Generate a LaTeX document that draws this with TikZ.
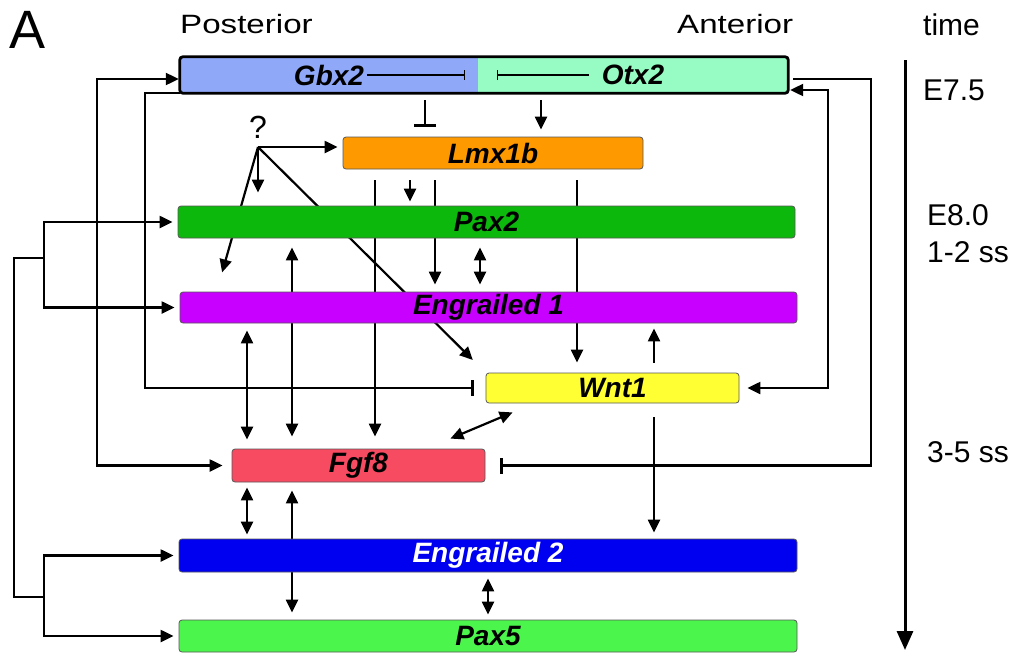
\documentclass[tikz,border=0pt]{standalone}
\usepackage{fontspec}
\setmainfont{Liberation Sans}
\usetikzlibrary{arrows.meta,backgrounds}
\definecolor{cGbx}{RGB}{143,168,248}
\definecolor{cOtx}{RGB}{150,252,196}
\definecolor{cLmx}{RGB}{255,153,0}
\definecolor{cPaxA}{RGB}{12,184,12}
\definecolor{cEnA}{RGB}{200,0,255}
\definecolor{cWnt}{RGB}{255,255,51}
\definecolor{cFgf}{RGB}{247,75,98}
\definecolor{cEnB}{RGB}{0,0,240}
\definecolor{cPaxB}{RGB}{76,245,76}
\newcommand\boxlabfont{\fontsize{28}{30}\selectfont\bfseries\itshape}
\newcommand\sidefont{\fontsize{30}{32}\selectfont}
\newcommand\headfont{\fontsize{26.5}{28}\selectfont}
\begin{document}
\begin{tikzpicture}[x=1pt,y=-1pt,
  box/.style={rectangle, rounded corners=3pt, draw=black!65, line width=0.8pt, inner sep=0pt, font=\boxlabfont},
  halfbox/.style={rectangle, draw=none, inner sep=0pt, font=\boxlabfont, minimum height=36pt},
  conn/.style={line width=2.2pt},
  arr/.style={conn, -{Triangle[length=13pt,width=12pt]}},
  dbl/.style={conn, {Triangle[length=13pt,width=12pt]}-{Triangle[length=13pt,width=12pt]}},
  inh/.style={conn, -{Bar[width=16pt]}},
  thininh/.style={line width=1.1pt, -{Bar[width=10pt]}},
  lbl/.style={inner sep=0pt, anchor=base west}]
\useasboundingbox (0,0) rectangle (1018,657);

% labels
\node[inner sep=0pt, font=\fontsize{54}{56}\selectfont] (A) at (28,30) {A};
\node[lbl] (post) at (180,33) {\scalebox{1.25}[1]{\headfont Posterior}};
\node[lbl] (ant) at (677,33) {\scalebox{1.25}[1]{\headfont Anterior}};
\node[lbl, font=\sidefont] (time) at (923,35) {time};
\node[lbl, font=\sidefont] (e75) at (923,100) {E7.5};
\node[lbl, font=\sidefont] (e80) at (927,225) {E8.0};
\node[lbl, font=\sidefont] (ss12) at (927,262) {1-2 ss};
\node[lbl, font=\sidefont] (ss35) at (927,462) {3-5 ss};

% boxes
\node[halfbox, fill=cGbx, minimum width=298pt] (gbx) at (329,75) {Gbx2};
\node[halfbox, fill=cOtx, minimum width=310pt] (otx) at (633,75) {Otx2};
\draw[line width=2.8pt, rounded corners=3pt] (gbx.south west) rectangle (otx.north east);
\node[box, fill=cLmx, minimum width=300pt, minimum height=32pt] (lmx) at (493,153) {Lmx1b};
\node[box, fill=cPaxA, minimum width=617pt, minimum height=32pt] (pax2) at (486.5,222) {Pax2};
\node[box, fill=cEnA, minimum width=617pt, minimum height=31pt] (eng1) at (488.5,307.5) {Engrailed 1};
\node[box, fill=cWnt, minimum width=253pt, minimum height=30pt] (wnt) at (612.5,388) {Wnt1};
\node[box, fill=cFgf, minimum width=253pt, minimum height=33pt] (fgf) at (358.5,465.5) {Fgf8};
\node[box, fill=cEnB, minimum width=618pt, minimum height=33pt, text=white] (eng2) at (488,555.5) {Engrailed 2};
\node[box, fill=cPaxB, minimum width=618pt, minimum height=32pt] (pax5) at (488,636) {Pax5};
\node[inner sep=0pt, font=\fontsize{32}{34}\selectfont] (q) at (258,127) {?};

% inhibitions inside the top box
\draw[thininh] (gbx.center -| 367,0) -- (gbx.center -| 465,0);
\draw[thininh] (otx.center -| 589,0) -- (otx.center -| 497,0);

% helper coordinates
\coordinate (qj) at (258,147);
\coordinate (b1) at (44,258);
\coordinate (b2) at (44,597);
\coordinate (bl1) at (14,258);
\coordinate (bl2) at (14,597);
\coordinate (c97) at (97,300);
\coordinate (c145) at (145,300);
\coordinate (c871) at (871,300);
\coordinate (c828) at (828,300);
\coordinate (tA) at (905,60);
\coordinate (tB) at (905,650);

\begin{pgfonlayer}{background}
% left brackets
\draw[conn] (b1) -- (bl1) -- (bl2) -- (b2);
\draw[arr, shorten >=5pt] (b1) |- (pax2.west);
\draw[arr, shorten >=5pt] (b1) |- (eng1.west);
\draw[arr, shorten >=5pt] (b2) |- (eng2.west);
\draw[arr, shorten >=5pt] (b2) |- (pax5.west);
% outer loops
\draw[dbl, shorten <=1pt, shorten >=9pt] ([yshift=-4pt]gbx.west) -| (c97) |- (fgf.west);
\draw[inh, shorten >=12pt] (gbx.south west) -| (c145) |- (wnt.west);
\draw[inh, shorten >=15pt] ([xshift=5pt,yshift=-4pt]otx.east) -| (c871) |- (fgf.east);
\draw[dbl, shorten <=2pt, shorten >=8pt] ([yshift=-15pt]otx.east) -| (c828) |- (wnt.east);
% time arrow
\draw[line width=3pt, -{Triangle[length=19pt,width=16pt]}] (tA) -- (tB);
% from top box
\draw[conn, -{Bar[width=22pt]}, shorten <=7pt, shorten >=10pt] (gbx.south -| 425,0) -- (lmx.north -| 425,0);
\draw[arr, shorten <=7pt, shorten >=7pt] (otx.south -| 541,0) -- (lmx.north -| 541,0);
% from ?
\draw[arr, shorten >=5pt] (qj) -- (lmx.west |- qj);
\draw[arr, shorten >=13pt] (qj) -- (qj |- pax2.north);
\draw[arr, shorten >=20pt] (qj) -- (eng1.north -| 216.6,0);
\draw[arr, shorten >=18pt] (qj) -- (wnt.north west);
% from Lmx1b
\draw[arr, shorten <=11pt, shorten >=12pt] (lmx.south -| 375,0) -- (fgf.north -| 375,0);
\draw[arr, shorten <=11pt, shorten >=4pt] (lmx.south -| 410,0) -- (pax2.north -| 410,0);
\draw[arr, shorten <=11pt, shorten >=7pt] (lmx.south -| 435,0) -- (eng1.north -| 435,0);
\draw[arr, shorten <=11pt, shorten >=10pt] (lmx.south -| 577,0) -- (wnt.north -| 577,0);
% middle
\draw[dbl, shorten <=9pt, shorten >=7pt] (pax2.south -| 480,0) -- (eng1.north -| 480,0);
\draw[dbl, shorten <=9pt, shorten >=12pt] (pax2.south -| 292,0) -- (fgf.north -| 292,0);
\draw[dbl, shorten <=7pt, shorten >=9pt] (eng1.south -| 247,0) -- (fgf.north -| 247,0);
\draw[arr, shorten <=10pt, shorten >=5pt] (wnt.north -| 654,0) -- (eng1.south -| 654,0);
\draw[dbl] ([xshift=27pt,yshift=-9pt]wnt.south west) -- ([xshift=-35pt,yshift=10pt]fgf.north east);
\draw[arr, shorten <=14pt, shorten >=6pt] (wnt.south -| 654,0) -- (eng2.north -| 654,0);
% bottom
\draw[dbl, shorten <=5pt, shorten >=4pt] (fgf.south -| 247,0) -- (eng2.north -| 247,0);
\draw[dbl, shorten <=8pt, shorten >=7pt] (fgf.south -| 292,0) -- (pax5.north -| 292,0);
\draw[dbl, shorten <=6pt, shorten >=5pt] (eng2.south -| 488,0) -- (pax5.north -| 488,0);
\end{pgfonlayer}
\end{tikzpicture}
\end{document}
